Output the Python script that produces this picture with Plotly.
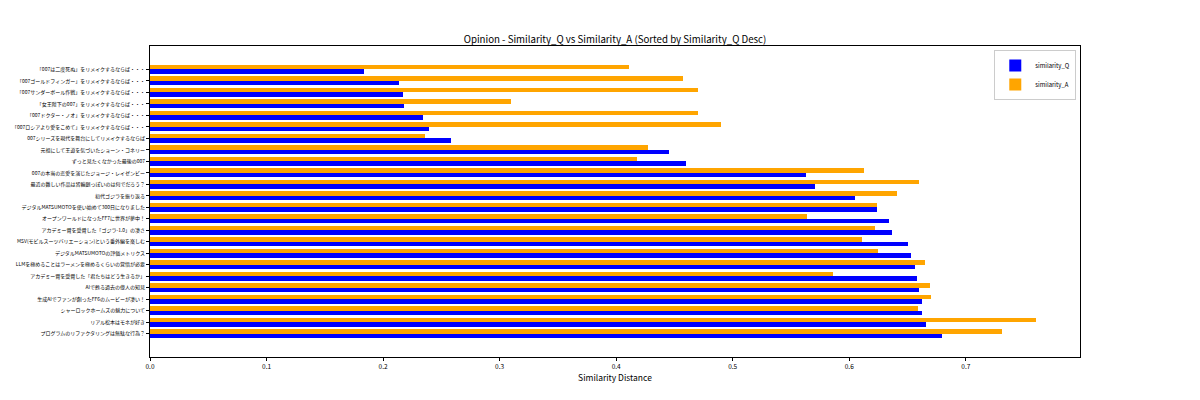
import numpy as np
import plotly.graph_objects as go

# Opinions sorted by similarity_Q (descending), first entry is drawn at the bottom
opinions = [
    "プログラムのリファクタリングは無駄な行為？",
    "リアル松本はモネが好き",
    "シャーロックホームズの魅力について",
    "生成AIでファンが創ったFF6のムービーが凄い！",
    "AIで甦る過去の偉人の知見",
    "アカデミー賞を受賞した「君たちはどう生きるか」",
    "LLMを極めることはラーメンを極めるくらいの覚悟が必要",
    "デジタルMATSUMOTOの評価メトリクス",
    "MSV(モビルスーツバリエーション)という番外編を楽しむ",
    "アカデミー賞を受賞した「ゴジラ-1.0」の凄さ",
    "オープンワールドになったFF7に世界が夢中！",
    "デジタルMATSUMOTOを使い始めて300日になりました",
    "初代ゴジラを振り返る",
    "最近の難しい作品は皆輪廻っぽいのは何でだろう？",
    "007の本当の恋愛を演じたジョージ・レイゼンビー",
    "ずっと見たくなかった最後の007",
    "元祖にして王道を気づいたショーン・コネリー",
    "007シリーズを現代を舞台にしてリメイクするならば",
    "「007ロシアより愛をこめて」をリメイクするならば・・・",
    "「007ドクター・ノオ」をリメイクするならば・・・",
    "「女王陛下の007」をリメイクするならば・・・",
    "「007サンダーボール作戦」をリメイクするならば・・・",
    "「007ゴールドフィンガー」をリメイクするならば・・・",
    "「007は二度死ぬ」をリメイクするならば・・・",
]
similarity_q = [
    0.680, 0.666, 0.662, 0.662, 0.660, 0.658, 0.656, 0.653,
    0.650, 0.637, 0.634, 0.624, 0.605, 0.571, 0.563, 0.460,
    0.445, 0.258, 0.239, 0.234, 0.218, 0.217, 0.214, 0.184,
]
similarity_a = [
    0.731, 0.760, 0.659, 0.670, 0.669, 0.586, 0.665, 0.625,
    0.611, 0.622, 0.564, 0.624, 0.641, 0.660, 0.613, 0.418,
    0.427, 0.236, 0.490, 0.470, 0.310, 0.470, 0.457, 0.411,
]
x_ticks = [0.0, 0.1, 0.2, 0.3, 0.4, 0.5, 0.6, 0.7]

FONT = "Noto Sans CJK JP"
BAR_W = 0.4
pos = np.arange(len(opinions))

fig = go.Figure()
fig.add_bar(
    x=similarity_q,
    y=pos - BAR_W / 2,
    width=BAR_W,
    orientation="h",
    name="similarity_Q",
    marker=dict(color="#0000ff", line_width=0),
)
fig.add_bar(
    x=similarity_a,
    y=pos + BAR_W / 2,
    width=BAR_W,
    orientation="h",
    name="similarity_A",
    marker=dict(color="#ffa500", line_width=0),
)

# matplotlib-like autoscale: 5% margin on the value axis, 5% around the bars
x_max = max(max(similarity_q), max(similarity_a)) * 1.05
y_lo = -2 * BAR_W
y_hi = len(opinions) - 1 + 2 * BAR_W
y_pad = 0.05 * (y_hi - y_lo)

fig.update_xaxes(
    range=[0, x_max],
    tickvals=x_ticks,
    ticktext=["%.1f" % t for t in x_ticks],
    title_text="Similarity Distance",
    title_font=dict(size=8.5),
    title_standoff=0,
    tickfont=dict(size=6.5),
    ticks="outside",
    ticklen=3,
    tickcolor="#000000",
    linecolor="#000000",
    linewidth=0.8,
    mirror=True,
    showgrid=False,
    zeroline=False,
    automargin=False,
)
fig.update_yaxes(
    range=[y_lo - y_pad, y_hi + y_pad],
    tickvals=pos,
    ticktext=opinions,
    tickfont=dict(size=5.0),
    ticks="outside",
    ticklen=3,
    tickcolor="#000000",
    linecolor="#000000",
    linewidth=0.8,
    mirror=True,
    showgrid=False,
    zeroline=False,
    automargin=False,
)

fig.update_layout(
    width=1200,
    height=400,
    title=dict(
        text="Opinion - Similarity_Q vs Similarity_A (Sorted by Similarity_Q Desc)",
        x=607 / 1200,
        xanchor="center",
        yref="container",
        y=1 - 32 / 400,
        yanchor="middle",
        font=dict(size=9.7, color="#000000"),
    ),
    font=dict(family=FONT, color="#000000"),
    barmode="overlay",
    bargap=0,
    plot_bgcolor="white",
    paper_bgcolor="white",
    margin=dict(l=142, r=128, t=38, b=51),
    legend=dict(
        x=0.996,
        y=0.987,
        xanchor="right",
        yanchor="top",
        bordercolor="#cccccc",
        borderwidth=1,
        bgcolor="rgba(255,255,255,0.8)",
        font=dict(size=6),
        traceorder="normal",
        tracegroupgap=0,
    ),
)

fig.write_html("out.html")
